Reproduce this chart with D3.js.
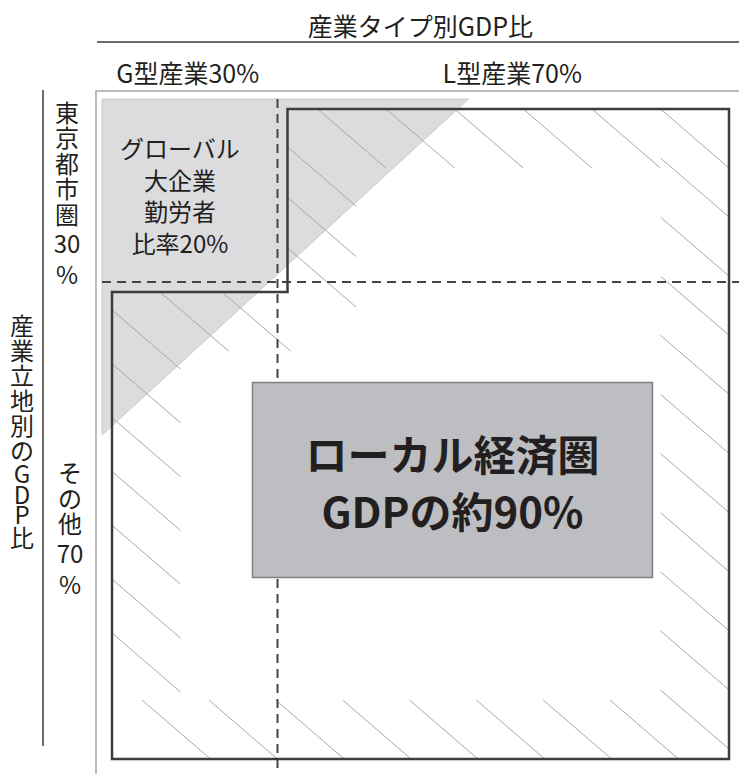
<!DOCTYPE html>
<html>
<head>
<meta charset="utf-8">
<script src="https://cdn.jsdelivr.net/npm/d3@7"></script>
<style>
  body { margin: 0; background: #fff; }
  svg { display: block; font-family: 'Noto Sans CJK JP', sans-serif; }
</style>
</head>
<body>
<div id="container"></div>
<script>
// 産業タイプ別 (横) × 産業立地別 (縦) のGDP比
let xTitle = '産業タイプ別GDP比'
let xLabels = ['G型産業30%', 'L型産業70%']
let xShares = [30, 70]

let yTitle = ['産', '業', '立', '地', '別', 'の', 'G', 'D', 'P', '比']
let yLabels = [['東', '京', '都', '市', '圏', '30', '%'], ['そ', 'の', '他', '70', '%']]
let yShares = [30, 70]

let globalLabel = ['グローバル', '大企業', '勤労者', '比率20%']
let globalTriangle = [[0, 0], [59, 0], [0, 52]]
let localLabel = ['ローカル経済圏', 'GDPの約90%']

let width = 739, height = 774

let xCuts = [0, ...d3.cumsum(xShares)],
  yCuts = [0, ...d3.cumsum(yShares)]

let xScale = d3.scaleLinear().domain(xCuts).range([102, 277.5, 739]),
  yScale = d3.scaleLinear().domain(yCuts).range([99, 282, 769])

let svg = d3.select('#container')
  .append('svg')
  .attr('width', width)
  .attr('height', height)

let ink = '#231f20'

// axis lines
svg.append('line')
  .attr('x1', 97).attr('x2', width)
  .attr('y1', 42).attr('y2', 42)
  .attr('stroke', '#3a3a3a').attr('stroke-width', 1.5)
svg.append('line')
  .attr('x1', 43).attr('x2', 43)
  .attr('y1', 90).attr('y2', 746)
  .attr('stroke', '#3a3a3a').attr('stroke-width', 1.5)

// light frame
svg.append('path')
  .attr('d', 'M96,' + height + 'V91H' + width)
  .attr('fill', 'none')
  .attr('stroke', '#a8a8a8')
  .attr('stroke-width', 1.5)

// global enterprise triangle
let line = d3.line()
  .x(d => xScale(d[0]))
  .y(d => yScale(d[1]))
svg.append('path')
  .attr('d', line(globalTriangle) + 'Z')
  .attr('fill', '#dcdcde')
  .attr('stroke', '#cbcbcd')
  .attr('stroke-width', 1)

// local economy outline (everything except Tokyo x G)
let inset = 10
let L = xScale(0) + inset, M = xScale(xCuts[1]) + inset, R = xScale(100) - inset,
  T = yScale(0) + inset, Mid = yScale(yCuts[1]) + inset, B = yScale(100) - inset

// hatch segments along the outline
let seg = [68.5, 59]
let bands = [
  { x0: M + 30, y0: T, x1: R - seg[0], y1: T, n: 6 },
  { x0: R - seg[0], y0: T + 49, x1: R - seg[0], y1: B - seg[1] - 10, n: 10 },
  { x0: L + 30, y0: B - seg[1], x1: R - 119, y1: B - seg[1], n: 8 },
  { x0: L, y0: Mid + 18, x1: L, y1: B - 126, n: 7 },
  { x0: M, y0: T + 38, x1: M, y1: T + 139, n: 3 },
  { x0: L + 48, y0: Mid, x1: L + 110, y1: Mid, n: 2 }
]
let hatch = bands.flatMap(b => d3.range(b.n).map(i => {
  let t = b.n > 1 ? i / (b.n - 1) : 0
  return [b.x0 + (b.x1 - b.x0) * t, b.y0 + (b.y1 - b.y0) * t]
}))
svg.append('g')
  .selectAll('line')
  .data(hatch)
  .join('line')
  .attr('x1', d => d[0]).attr('y1', d => d[1])
  .attr('x2', d => d[0] + seg[0]).attr('y2', d => d[1] + seg[1])
  .attr('stroke', '#a8a8a8')
  .attr('stroke-width', 1)

// dashed dividers
svg.append('line')
  .attr('x1', xScale(xCuts[1])).attr('x2', xScale(xCuts[1]))
  .attr('y1', yScale(0)).attr('y2', height)
  .attr('stroke', '#444').attr('stroke-width', 2)
  .attr('stroke-dasharray', '9,6')
svg.append('line')
  .attr('x1', xScale(0)).attr('x2', width)
  .attr('y1', yScale(yCuts[1])).attr('y2', yScale(yCuts[1]))
  .attr('stroke', '#444').attr('stroke-width', 2)
  .attr('stroke-dasharray', '9,6')

svg.append('path')
  .attr('d', 'M' + M + ',' + T + 'H' + R + 'V' + B + 'H' + L + 'V' + Mid + 'H' + M + 'Z')
  .attr('fill', 'none')
  .attr('stroke', '#3d3d3d')
  .attr('stroke-width', 2.5)

// central box
let box = { x: 252.5, y: 382.5, w: 400, h: 195 }
svg.append('rect')
  .attr('x', box.x).attr('y', box.y)
  .attr('width', box.w).attr('height', box.h)
  .attr('fill', '#bdbec1')
  .attr('stroke', '#7f7f7f')
  .attr('stroke-width', 1.5)
svg.append('text')
  .attr('text-anchor', 'middle')
  .attr('dominant-baseline', 'central')
  .attr('font-size', 42)
  .attr('font-weight', 'bold')
  .attr('fill', ink)
  .selectAll('tspan')
  .data(localLabel)
  .join('tspan')
  .text(d => d)
  .attr('x', box.x + box.w / 2)
  .attr('y', (d, i) => box.y + box.h / 2 - 28 + i * 57)

// global label
svg.append('text')
  .attr('text-anchor', 'middle')
  .attr('dominant-baseline', 'central')
  .attr('font-size', 24)
  .attr('fill', ink)
  .selectAll('tspan')
  .data(globalLabel)
  .join('tspan')
  .text(d => d)
  .attr('x', 180)
  .attr('y', (d, i) => 147 + i * 31.7)

// x title and categories
svg.append('text')
  .text(xTitle)
  .attr('x', (xScale(0) + width) / 2)
  .attr('y', 25)
  .attr('text-anchor', 'middle')
  .attr('dominant-baseline', 'central')
  .attr('font-size', 25)
  .attr('fill', ink)
svg.append('g')
  .selectAll('text')
  .data(xLabels)
  .join('text')
  .text(d => d)
  .attr('x', (d, i) => (xScale(xCuts[i]) + xScale(xCuts[i + 1])) / 2 + (i ? 4 : -2))
  .attr('y', 72)
  .attr('text-anchor', 'middle')
  .attr('dominant-baseline', 'central')
  .attr('font-size', 25)
  .attr('fill', ink)

// vertical stacks of characters, one text element per label
function stack(tokens, cx, cy, sizes) {
  let h = tokens.map(t => sizes(t)),
    total = d3.sum(h),
    acc = 0
  return tokens.map((t, i) => {
    let c = acc + h[i] / 2
    acc += h[i]
    return { t: t, x: cx, y: cy - total / 2 + c }
  })
}
let cjk = t => /[\u3000-\u9fff]/.test(t)

let stacks = yLabels.map((tokens, i) =>
  stack(tokens, i ? 70 : 67, (yScale(yCuts[i]) + yScale(yCuts[i + 1])) / 2 + 2,
    t => cjk(t) ? 25.5 : (t === '%' ? 28 : 34)))
stacks.push(stack(yTitle, 22, 430, t => cjk(t) ? 25 : 20.5))

svg.append('g')
  .selectAll('text')
  .data(stacks)
  .join('text')
  .attr('text-anchor', 'middle')
  .attr('dominant-baseline', 'central')
  .attr('font-size', 24)
  .attr('fill', ink)
  .selectAll('tspan')
  .data(d => d)
  .join('tspan')
  .text(d => d.t)
  .attr('x', d => d.x)
  .attr('y', d => d.y)
</script>
</body>
</html>
